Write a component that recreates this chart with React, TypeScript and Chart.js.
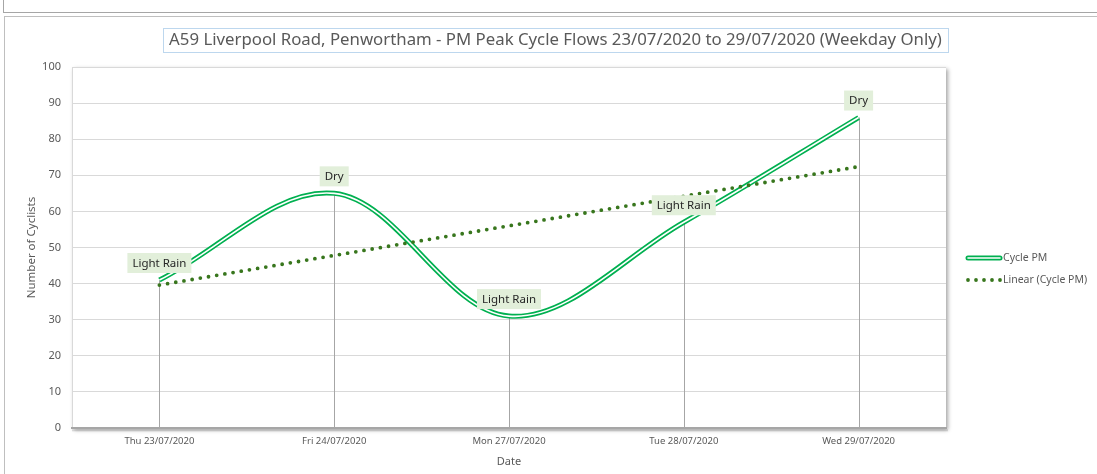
import React, { useEffect, useRef } from 'react';
import { Chart, registerables } from 'chart.js';

Chart.register(...registerables);

const titleText =
  'A59 Liverpool Road, Penwortham - PM Peak Cycle Flows 23/07/2020 to 29/07/2020 (Weekday Only)';
const categories = ['Thu 23/07/2020', 'Fri 24/07/2020', 'Mon 27/07/2020', 'Tue 28/07/2020', 'Wed 29/07/2020'];
const cyclePM = [41, 65, 31, 57, 86];
const weatherLabels = ['Light Rain', 'Dry', 'Light Rain', 'Light Rain', 'Dry'];
const seriesName = 'Cycle PM';
const trendName = 'Linear (Cycle PM)';
const yMin = 0;
const yMax = 100;
const yStep = 10;
const xAxisTitle = 'Date';
const yAxisTitle = 'Number of Cyclists';

// Least-squares linear trendline (Excel "Linear" trendline) derived from the series
function linearTrend(values: number[]): number[] {
  const n = values.length;
  const xs = values.map((_, i) => i + 1);
  const mx = xs.reduce((a, b) => a + b, 0) / n;
  const my = values.reduce((a, b) => a + b, 0) / n;
  let num = 0;
  let den = 0;
  for (let i = 0; i < n; i++) {
    num += (xs[i] - mx) * (values[i] - my);
    den += (xs[i] - mx) * (xs[i] - mx);
  }
  const slope = num / den;
  return xs.map((x) => my + slope * (x - mx));
}

const FONT = "'Noto Sans', 'Open Sans', sans-serif";
const GREEN = '#00B050';
const TREND = '#38761D';
const TEXT = '#595959';

const plotShadowPlugin = {
  id: 'plotShadow',
  beforeDraw(chart: any) {
    const { ctx, chartArea: a } = chart;
    ctx.save();
    ctx.shadowColor = 'rgba(0,0,0,0.35)';
    ctx.shadowBlur = 4;
    ctx.shadowOffsetX = 2;
    ctx.shadowOffsetY = 2;
    ctx.fillStyle = '#ffffff';
    ctx.fillRect(a.left, a.top, a.right - a.left, a.bottom - a.top);
    ctx.restore();
    ctx.save();
    ctx.strokeStyle = '#D9D9D9';
    ctx.lineWidth = 1;
    ctx.beginPath();
    ctx.moveTo(a.left + 0.5, a.top);
    ctx.lineTo(a.left + 0.5, a.bottom);
    ctx.stroke();
    ctx.restore();
  },
  beforeDatasetsDraw(chart: any) {
    const { ctx, chartArea: a, scales } = chart;
    ctx.save();
    ctx.strokeStyle = 'rgba(0,0,0,0.18)';
    ctx.lineWidth = 1;
    ctx.beginPath();
    ctx.moveTo(a.left, a.bottom + 2);
    ctx.lineTo(a.right + 2, a.bottom + 2);
    ctx.stroke();
    ctx.strokeStyle = 'rgba(0,0,0,0.08)';
    ctx.beginPath();
    ctx.moveTo(a.left, a.bottom + 3);
    ctx.lineTo(a.right + 2, a.bottom + 3);
    ctx.stroke();
    // drop lines
    ctx.strokeStyle = '#A6A6A6';
    ctx.lineWidth = 1;
    const y0 = scales.y.getPixelForValue(yMin);
    cyclePM.forEach((v, i) => {
      const x = Math.round(scales.x.getPixelForValue(i)) + 0.5;
      const y = scales.y.getPixelForValue(v);
      ctx.beginPath();
      ctx.moveTo(x, y);
      ctx.lineTo(x, y0);
      ctx.stroke();
    });
    ctx.restore();
  },
  afterDatasetsDraw(chart: any) {
    const { ctx, scales } = chart;
    ctx.save();
    ctx.font = `11.5px ${FONT}`;
    ctx.textAlign = 'center';
    ctx.textBaseline = 'middle';
    cyclePM.forEach((v, i) => {
      const x = scales.x.getPixelForValue(i);
      const y = scales.y.getPixelForValue(v) - 17;
      const text = weatherLabels[i];
      const w = ctx.measureText(text).width + 10;
      const h = 20;
      ctx.fillStyle = '#E2EFDA';
      ctx.fillRect(x - w / 2, y - h / 2, w, h);
      ctx.fillStyle = '#262626';
      ctx.fillText(text, x, y + 0.5);
    });
    ctx.restore();
  },
  afterDraw(chart: any) {
    const { ctx, chartArea: a } = chart;
    ctx.save();
    ctx.font = `16.8px ${FONT}`;
    ctx.textAlign = 'center';
    ctx.textBaseline = 'middle';
    const tx = chart.width / 2 + 4.5;
    const ty = 23.5;
    const tw = ctx.measureText(titleText).width;
    ctx.strokeStyle = '#BDD7EE';
    ctx.lineWidth = 1;
    ctx.strokeRect(Math.round(tx - tw / 2 - 6) + 0.5, 11.5, Math.round(tw + 12), 24);
    ctx.fillStyle = TEXT;
    ctx.fillText(titleText, tx, ty);

    // Legend
    const lx = a.right + 20;
    const ly1 = a.top + 191;
    const ly2 = a.top + 213;
    const len = 36;
    ctx.lineCap = 'round';
    ctx.strokeStyle = GREEN;
    ctx.lineWidth = 5;
    ctx.beginPath();
    ctx.moveTo(lx + 2, ly1);
    ctx.lineTo(lx + len - 2, ly1);
    ctx.stroke();
    ctx.strokeStyle = '#ffffff';
    ctx.lineWidth = 1.6;
    ctx.beginPath();
    ctx.moveTo(lx + 2, ly1);
    ctx.lineTo(lx + len - 2, ly1);
    ctx.stroke();
    ctx.fillStyle = TREND;
    for (let k = 0; k < 5; k++) {
      ctx.beginPath();
      ctx.arc(lx + 2 + k * 8, ly2, 1.9, 0, Math.PI * 2);
      ctx.fill();
    }
    ctx.font = `10.5px ${FONT}`;
    ctx.textAlign = 'left';
    ctx.fillStyle = TEXT;
    ctx.fillText(seriesName, lx + len + 1, ly1 + 0.5);
    ctx.fillText(trendName, lx + len + 1, ly2 + 0.5);
    ctx.restore();
  },
};

export default function App() {
  const canvasRef = useRef<HTMLCanvasElement | null>(null);

  useEffect(() => {
    if (!canvasRef.current) return;
    const trend = linearTrend(cyclePM);
    const chart = new Chart(canvasRef.current, {
      type: 'line',
      data: {
        labels: categories,
        datasets: [
          {
            label: trendName,
            data: trend,
            borderColor: TREND,
            borderWidth: 3.8,
            borderDash: [0, 8.3],
            borderCapStyle: 'round',
            pointRadius: 0,
            tension: 0,
            fill: false,
          },
          {
            label: seriesName + ' inner',
            data: cyclePM,
            borderColor: '#ffffff',
            borderWidth: 1.6,
            pointRadius: 0,
            tension: 0.35,
            fill: false,
          },
          {
            label: seriesName,
            data: cyclePM,
            borderColor: GREEN,
            borderWidth: 5,
            pointRadius: 0,
            tension: 0.35,
            fill: false,
          },
        ],
      },
      options: {
        responsive: false,
        animation: false,
        devicePixelRatio: 1,
        layout: { padding: { top: 50, right: 151, left: 0, bottom: 0 } },
        plugins: {
          legend: { display: false },
          title: { display: false },
          tooltip: { enabled: false },
        },
        scales: {
          x: {
            type: 'category',
            offset: true,
            grid: { display: false, drawTicks: false },
            border: { display: true, color: '#A6A6A6', width: 2 },
            ticks: {
              font: { family: FONT, size: 9.5 },
              color: TEXT,
              padding: 7.3,
              maxRotation: 0,
              autoSkip: false,
            },
            title: {
              display: true,
              text: xAxisTitle,
              font: { family: FONT, size: 11 },
              color: TEXT,
              padding: { top: 0, bottom: 5.4 },
            },
            afterFit: (s: any) => {
              s.height = 46;
            },
          },
          y: {
            min: yMin,
            max: yMax,
            ticks: {
              stepSize: yStep,
              font: { family: FONT, size: 11 },
              color: TEXT,
              padding: 11,
            },
            grid: { color: '#D9D9D9', drawTicks: false },
            border: { display: false },
            title: {
              display: true,
              text: yAxisTitle,
              font: { family: FONT, size: 11.5 },
              color: TEXT,
              padding: { top: 20.1, bottom: 0 },
            },
            afterFit: (s: any) => {
              s.width = 67;
            },
          },
        },
      },
      plugins: [plotShadowPlugin],
    } as any);
    return () => chart.destroy();
  }, []);

  return (
    <div
      style={{
        position: 'absolute',
        left: 0,
        top: 0,
        width: 1097,
        height: 474,
        overflow: 'hidden',
        background: '#ffffff',
      }}
    >
      <div
        style={{
          position: 'absolute',
          left: 3,
          top: -2,
          width: 1200,
          height: 13,
          border: '1px solid #A6A6A6',
        }}
      />
      <div
        style={{
          position: 'absolute',
          left: 4,
          top: 16,
          width: 1200,
          height: 600,
          borderLeft: '1px solid #BFBFBF',
          borderTop: '1px solid #BFBFBF',
        }}
      />
      <canvas
        ref={canvasRef}
        width={1092}
        height={457}
        style={{ position: 'absolute', left: 5, top: 17, width: 1092, height: 457 }}
      />
    </div>
  );
}
